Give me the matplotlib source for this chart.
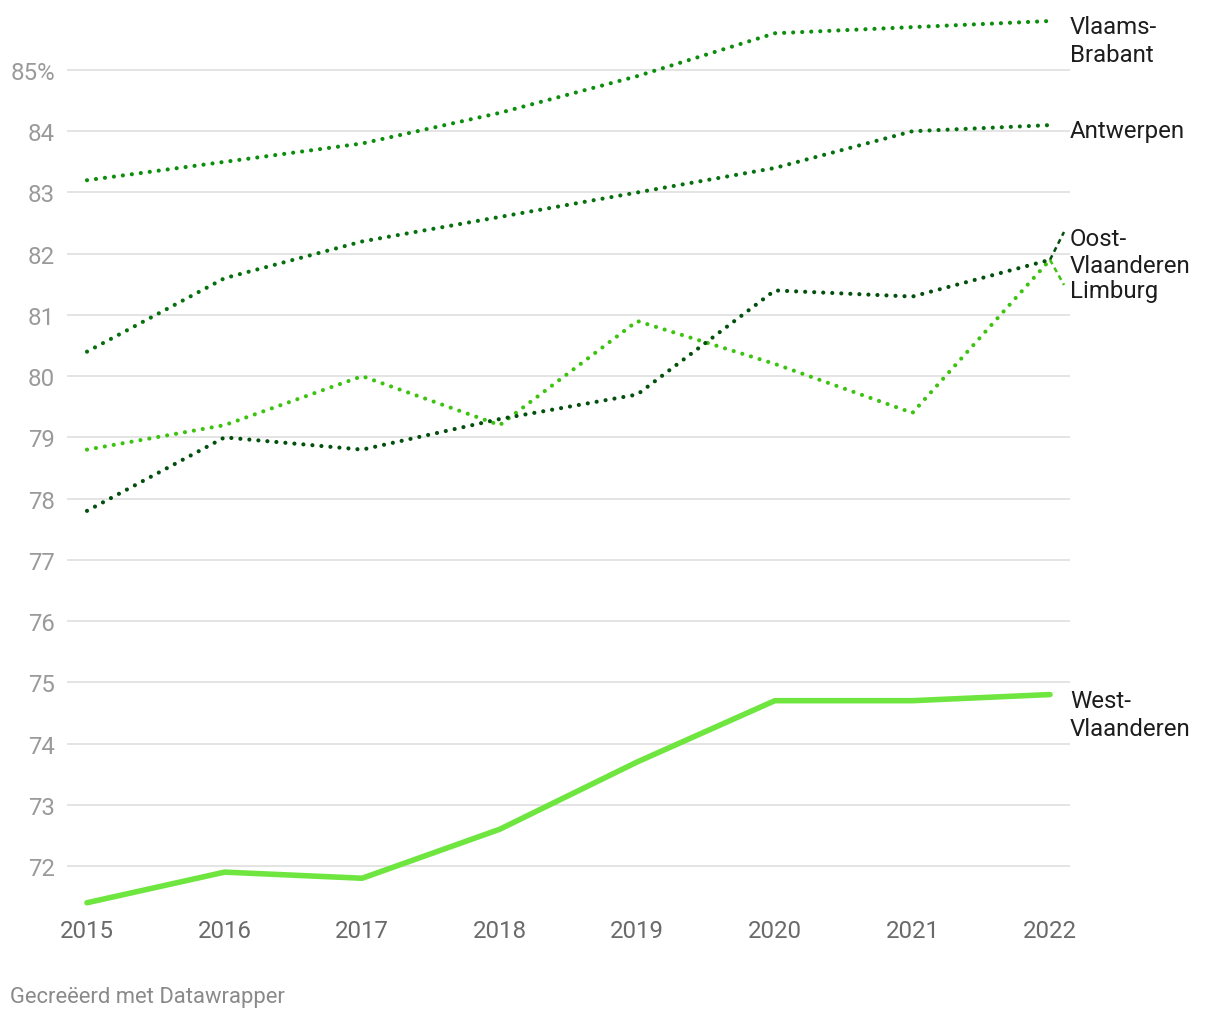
import matplotlib
matplotlib.use("Agg")
import matplotlib.pyplot as plt

years = [2015, 2016, 2017, 2018, 2019, 2020, 2021, 2022]
vlaams_brabant = [83.2, 83.5, 83.8, 84.3, 84.9, 85.6, 85.7, 85.8]
antwerpen = [80.4, 81.6, 82.2, 82.6, 83.0, 83.4, 84.0, 84.1]
oost_vlaanderen = [77.8, 79.0, 78.8, 79.3, 79.7, 81.4, 81.3, 81.9]
limburg = [78.8, 79.2, 80.0, 79.2, 80.9, 80.2, 79.4, 81.9]
west_vlaanderen = [71.4, 71.9, 71.8, 72.6, 73.7, 74.7, 74.7, 74.8]

y_ticks = list(range(72, 86))
y_tick_labels = [str(t) if t != 85 else "85%" for t in y_ticks]
x_tick_labels = [str(y) for y in years]

plt.rcParams['font.family'] = ['Roboto', 'DejaVu Sans']

W, H = 1220, 1020
fig = plt.figure(figsize=(W / 100, H / 100), dpi=100)

# axes in pixel layout
ax_left, ax_right, ax_top, ax_bottom = 67, 1070, 10, 910
ax = fig.add_axes([ax_left / W, 1 - ax_bottom / H, (ax_right - ax_left) / W, (ax_bottom - ax_top) / H])

# pixel mapping: 2015 -> 87, 2022 -> 1050 ; 85 -> 71, 72 -> 867
px_per_year = (1050 - 87) / 7
px_per_unit = (867 - 71) / 13
xmin = 2015 - (87 - ax_left) / px_per_year
xmax = 2022 + (ax_right - 1050) / px_per_year
ymax = 85 + (71 - ax_top) / px_per_unit
ymin = 85 - (ax_bottom - 71) / px_per_unit
ax.set_xlim(xmin, xmax)
ax.set_ylim(ymin, ymax)

def py(p):
    return 85 - (p - 71) / px_per_unit

def px(p):
    return 2015 + (p - 87) / px_per_year

for t in y_ticks:
    ax.axhline(t, color='#e2e2e2', lw=1.3, zorder=0)

c_vb = '#0b8e0b'
c_an = '#06700f'
c_ov = '#034f0d'
c_li = '#3cc310'
c_wv = '#6ee63f'

dot_kw = dict(lw=3.0, dashes=(0.01, 2.16), dash_capstyle='round', solid_capstyle='round')
ax.plot(years, limburg, color=c_li, **dot_kw, zorder=3)
ax.plot(years, oost_vlaanderen, color=c_ov, **dot_kw, zorder=3)
ax.plot(years, antwerpen, color=c_an, **dot_kw, zorder=3)
ax.plot(years, vlaams_brabant, color=c_vb, **dot_kw, zorder=3)
ax.plot(years, west_vlaanderen, color=c_wv, lw=4.0, solid_capstyle='round', solid_joinstyle='round', zorder=4)

# leader lines
ax.plot([2022, px(1064)], [oost_vlaanderen[-1], py(233)], color=c_ov, lw=1.8,
        dashes=(2.0, 1.6), clip_on=False, zorder=3)
ax.plot([2022, px(1064)], [limburg[-1], py(286)], color=c_li, lw=1.8,
        dashes=(2.0, 1.6), clip_on=False, zorder=3)

label_x = px(1070)
labels = [
    ("Vlaams-", 34), ("Brabant", 62),
    ("Antwerpen", 138),
    ("Oost-", 246), ("Vlaanderen", 273),
    ("Limburg", 298),
    ("West-", 708), ("Vlaanderen", 736),
]
for txt, base in labels:
    ax.text(label_x, py(base), txt, ha='left', va='baseline', fontsize=17.3,
            color='#1d1d1d', clip_on=False)

ax.set_yticks(y_ticks)
ax.set_yticklabels(y_tick_labels)
ax.set_xticks(years)
ax.set_xticklabels(x_tick_labels)
ax.tick_params(axis='y', length=0, pad=8.5, labelsize=17.3, labelcolor='#9a9a9a')
ax.tick_params(axis='x', length=0, pad=7, labelsize=17.3, labelcolor='#6a6a6a')
for s in ax.spines.values():
    s.set_visible(False)
ax.set_facecolor('none')

fig.text(10 / W, 1 - 998 / H, "Gecreëerd met Datawrapper", ha='left', va='center',
         fontsize=15.8, color='#8a8a8a')

fig.savefig("out.png", dpi=100)
